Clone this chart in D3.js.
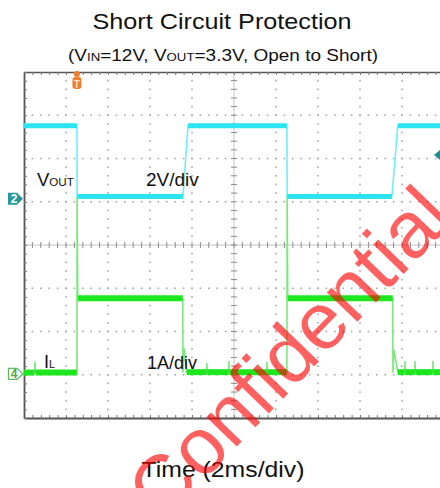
<!DOCTYPE html>
<html><head><meta charset="utf-8">
<script src="https://cdn.jsdelivr.net/npm/d3@7"></script>
<style>html,body{margin:0;padding:0;background:#fff;}svg{display:block;font-family:"Liberation Sans",Arial,sans-serif;}</style>
</head><body>
<svg id="c" width="440" height="488"></svg>
<script>
// ---- data ----
const titleText = "Short Circuit Protection";
const xLabel = "Time (2ms/div)";
// VOUT (V) vs time (ms)
const voutTime = [0, 2.52, 2.53, 7.57, 7.81, 12.52, 12.53, 17.52, 17.8, 20];
const voutVal  = [3.38, 3.38, 0.1, 0.1, 3.38, 3.38, 0.1, 0.1, 3.38, 3.38];
// IL (A) vs time (ms)
const ilTime = [0, 0.5, 0.52, 0.54, 2.52, 2.53, 2.56, 7.56, 7.57, 7.62, 7.75,
  8.70, 8.71, 8.72, 9.75, 9.76, 9.77, 11.56, 11.57, 11.58,
  12.52, 12.53, 12.56, 17.56, 17.57, 17.62, 17.8,
  18.13, 18.14, 18.15, 18.61, 18.62, 18.63, 19.47, 19.48, 19.49, 20];
const ilVal = [0.03, 0.03, 0.28, 0.03, 0.03, 4.1, 1.75, 1.75, 0.03, 0.6, 0.04,
  0.04, 0.25, 0.04, 0.04, 0.3, 0.04, 0.04, 0.28, 0.04,
  0.04, 4.1, 1.75, 1.75, 0.03, 0.55, 0.04,
  0.04, 0.3, 0.04, 0.04, 0.3, 0.04, 0.04, 0.3, 0.04, 0.04];
const voltsPerDiv = 2, ampsPerDiv = 1;
const ch2Offset = 1.07, ch4Offset = -2.98;   // channel ground positions (div)

// ---- layout ----
const svg = d3.select("#c");
const xDiv = d3.scaleLinear().domain([0, 10]).range([24, 444]);
const yDiv = d3.scaleLinear().domain([-4, 4]).range([418, 72]);
const xT = d3.scaleLinear().domain([0, 20]).range([24, 444]);
const yV = v => yDiv(ch2Offset + v / voltsPerDiv);
const yI = a => yDiv(ch4Offset + a / ampsPerDiv);

svg.append("defs").append("clipPath").attr("id", "clip")
  .append("rect").attr("x", 24).attr("y", 72).attr("width", 416).attr("height", 346);

// titles
svg.append("text").attr("x", 222).attr("y", 29).attr("text-anchor", "middle")
  .attr("font-size", 22).attr("textLength", 259).attr("lengthAdjust", "spacingAndGlyphs")
  .attr("fill", "#111").text(titleText);
const sub = svg.append("text").attr("x", 223).attr("y", 61).attr("text-anchor", "middle")
  .attr("font-size", 16.5).attr("textLength", 310).attr("lengthAdjust", "spacingAndGlyphs")
  .attr("fill", "#111");
sub.append("tspan").text("(V");
sub.append("tspan").attr("font-size", 11.5).text("IN");
sub.append("tspan").text("=12V, V");
sub.append("tspan").attr("font-size", 11.5).text("OUT");
sub.append("tspan").text("=3.3V, Open to Short)");

const g = svg.append("g");
// dotted grid
const minorX = d3.range(0, 10.001, 0.2);
const minorY = d3.range(-4, 4.001, 0.2);
const gridCols = [1,2,3,4,6,7,8,9];
const gridRows = [-3,-2,-1,1,2,3];
const dots = [];
gridCols.forEach(c => minorY.forEach(d => dots.push([xDiv(c), yDiv(d)])));
gridRows.forEach(r => minorX.forEach(d => dots.push([xDiv(d), yDiv(r)])));
g.append("g").attr("clip-path", "url(#clip)").selectAll("rect").data(dots).join("rect")
  .attr("x", d => d[0] - 0.8).attr("y", d => d[1] - 0.8).attr("width", 1.6).attr("height", 1.6)
  .attr("fill", "#a8a8a8");

// centre axes with ticks
const ca = g.append("g").attr("clip-path", "url(#clip)");
ca.append("line").attr("x1", xDiv(5)).attr("x2", xDiv(5)).attr("y1", 72).attr("y2", 418)
  .attr("stroke", "#c4c4c4").attr("stroke-width", 1);
ca.append("line").attr("x1", 24).attr("x2", 444).attr("y1", yDiv(0)).attr("y2", yDiv(0))
  .attr("stroke", "#c4c4c4").attr("stroke-width", 1);
ca.selectAll("line.tx").data(minorX).join("line").attr("class", "tx")
  .attr("x1", d => xDiv(d)).attr("x2", d => xDiv(d)).attr("y1", yDiv(0) - 3).attr("y2", yDiv(0) + 3)
  .attr("stroke", "#8a8a8a").attr("stroke-width", 1);
ca.selectAll("line.ty").data(minorY).join("line").attr("class", "ty")
  .attr("y1", d => yDiv(d)).attr("y2", d => yDiv(d)).attr("x1", xDiv(5) - 3).attr("x2", xDiv(5) + 3)
  .attr("stroke", "#8a8a8a").attr("stroke-width", 1);

// border ticks (axes)
const noLab = () => "";
g.append("g").attr("transform", `translate(0,${yDiv(4)})`)
  .call(d3.axisBottom(xDiv).tickValues(minorX).tickSize(3).tickSizeOuter(0).tickFormat(noLab))
  .call(s => { s.selectAll("line").attr("stroke", "#777"); s.select(".domain").attr("stroke", "#555").attr("stroke-width", 1.5); });
g.append("g").attr("transform", `translate(0,${yDiv(-4)})`)
  .call(d3.axisTop(xDiv).tickValues(minorX).tickSize(3).tickSizeOuter(0).tickFormat(noLab))
  .call(s => { s.selectAll("line").attr("stroke", "#777"); s.select(".domain").attr("stroke", "#555").attr("stroke-width", 2); });
g.append("g").attr("transform", `translate(${xDiv(0)},0)`)
  .call(d3.axisRight(yDiv).tickValues(minorY).tickSize(3).tickSizeOuter(0).tickFormat(noLab))
  .call(s => { s.selectAll("line").attr("stroke", "#777"); s.select(".domain").attr("stroke", "#555").attr("stroke-width", 1.8); });

// traces
function drawTrace(times, vals, yf, thin, thick, bandW) {
  const tg = svg.append("g").attr("clip-path", "url(#clip)");
  const pts = times.map((t, i) => [xT(t), yf(vals[i])]);
  tg.append("path").attr("d", d3.line()(pts)).attr("fill", "none")
    .attr("stroke", thin).attr("stroke-width", 1.6);
  const segs = [];
  for (let i = 0; i < pts.length - 1; i++) if (vals[i] === vals[i + 1]) segs.push([pts[i], pts[i + 1]]);
  tg.selectAll("line").data(segs).join("line")
    .attr("x1", d => d[0][0]).attr("y1", d => d[0][1]).attr("x2", d => d[1][0]).attr("y2", d => d[1][1])
    .attr("stroke", thick).attr("stroke-width", bandW);
}
drawTrace(ilTime, ilVal, yI, "#7de87d", "#1ee61e", 6);
drawTrace(voutTime, voutVal, yV, "#6eeef7", "#2ae4f2", 5);

// labels on traces
const lv = svg.append("text").attr("x", 37).attr("y", 186).attr("fill", "#111").attr("font-size", 18.5);
lv.append("tspan").text("V");
lv.append("tspan").attr("font-size", 11.6).text("OUT");
svg.append("text").attr("x", 146).attr("y", 186).attr("font-size", 19).attr("fill", "#111").text("2V/div");
const li = svg.append("text").attr("x", 44).attr("y", 368).attr("fill", "#111").attr("font-size", 18);
li.append("tspan").text("I");
li.append("tspan").attr("font-size", 11).text("L");
svg.append("text").attr("x", 147).attr("y", 369).attr("font-size", 18).attr("fill", "#111").text("1A/div");

// channel markers
const m2y = yV(0);
svg.append("path").attr("d", `M8,${m2y-6} L17,${m2y-6} L23,${m2y} L17,${m2y+6} L8,${m2y+6} Z`)
  .attr("fill", "#24979a");
svg.append("text").attr("x", 14).attr("y", m2y + 4.5).attr("text-anchor", "middle")
  .attr("font-size", 12).attr("font-weight", "bold").attr("fill", "#fff").text("2");
const m4y = yI(0);
svg.append("path").attr("d", `M8.5,${m4y-5.5} L17,${m4y-5.5} L23,${m4y} L17,${m4y+5.5} L8.5,${m4y+5.5} Z`)
  .attr("fill", "#fff").attr("stroke", "#62b862").attr("stroke-width", 1.3);
svg.append("text").attr("x", 14).attr("y", m4y + 4.5).attr("text-anchor", "middle")
  .attr("font-size", 12).attr("font-weight", "bold").attr("fill", "#4aa84a").text("4");
// right edge marker
svg.append("path").attr("d", `M440,150 L434,155 L440,160 Z`).attr("fill", "#1f8d8d");
// trigger marker
const tx = xT(voutTime[1]);
svg.append("circle").attr("cx", tx).attr("cy", 74).attr("r", 3).attr("fill", "#ef7d2c");
svg.append("rect").attr("x", tx - 4.5).attr("y", 77).attr("width", 9).attr("height", 12).attr("rx", 3)
  .attr("fill", "#ef7d2c");
svg.append("text").attr("x", tx).attr("y", 87.5).attr("text-anchor", "middle").attr("font-size", 10)
  .attr("font-weight", "bold").attr("fill", "#fde3c8").text("T");

// x label
svg.append("text").attr("x", 223).attr("y", 477).attr("text-anchor", "middle").attr("font-size", 22)
  .attr("textLength", 163).attr("lengthAdjust", "spacingAndGlyphs").attr("fill", "#111").text(xLabel);

// watermark
svg.append("text").attr("transform", "translate(162,524) rotate(-46)")
  .attr("font-size", 80).attr("fill", "#ff0000").attr("fill-opacity", 0.62).text("Confidential");
</script>
</body></html>
